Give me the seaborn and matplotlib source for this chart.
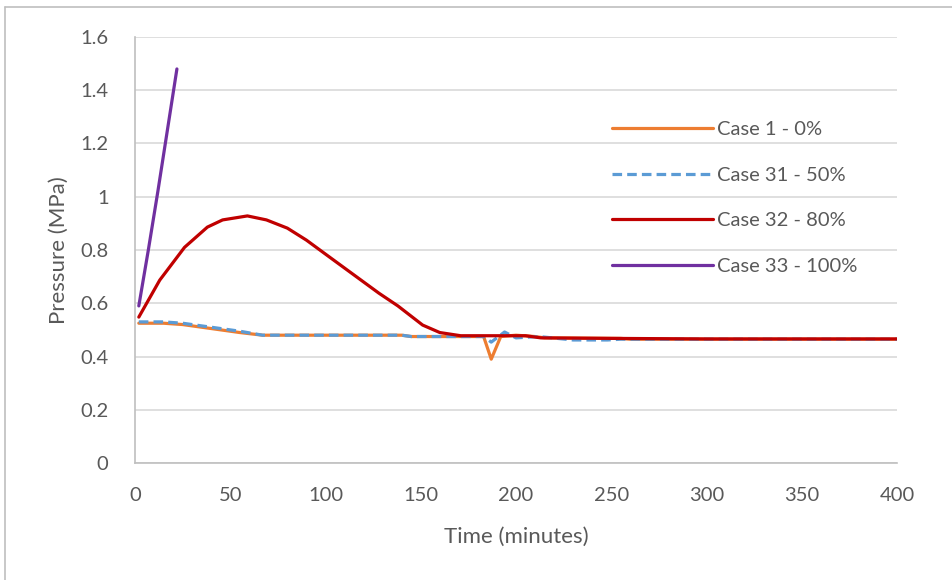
import pandas as pd
import numpy as np
import matplotlib
matplotlib.use("Agg")
import matplotlib.pyplot as plt
import seaborn as sns
from matplotlib.lines import Line2D

sns.set_style("white")
plt.rcParams["font.family"] = ["Lato", "DejaVu Sans"]

# 读图得到的数据（时间/分钟，压力/MPa）
case1_t = [2, 15, 25, 35, 45, 55, 67, 100, 140, 145, 183, 187, 192, 200, 210, 215, 255, 260, 400]
case1_p = [0.525, 0.525, 0.52, 0.51, 0.50, 0.49, 0.48, 0.48, 0.48, 0.475, 0.475, 0.39, 0.475, 0.48, 0.475, 0.47, 0.468, 0.465, 0.465]

case31_t = [2, 15, 25, 35, 45, 55, 67, 100, 140, 145, 183, 187, 194, 200, 212, 230, 248, 255, 400]
case31_p = [0.53, 0.53, 0.525, 0.515, 0.505, 0.495, 0.48, 0.48, 0.48, 0.475, 0.475, 0.454, 0.492, 0.47, 0.475, 0.462, 0.462, 0.465, 0.465]

case32_t = [2, 13, 26, 38, 46, 59, 69, 80, 90, 102, 115, 128, 138, 151, 160, 171, 190, 205, 213, 250, 300, 400]
case32_p = [0.548, 0.687, 0.81, 0.886, 0.913, 0.928, 0.913, 0.882, 0.837, 0.774, 0.706, 0.638, 0.59, 0.518, 0.49, 0.478, 0.478, 0.478, 0.47, 0.468, 0.466, 0.466]

case33_t = [2, 7, 12, 17, 22]
case33_p = [0.59, 0.80, 1.02, 1.25, 1.48]

labels = ["Case 1 - 0%", "Case 31 - 50%", "Case 32 - 80%", "Case 33 - 100%"]
colors = ["#ED7D31", "#5B9BD5", "#C00000", "#7030A0"]
styles = ["-", (0, (3, 1.6)), "-", "-"]
series = [(case1_t, case1_p), (case31_t, case31_p), (case32_t, case32_p), (case33_t, case33_p)]

fig = plt.figure(figsize=(9.53, 5.80), dpi=100)
ax = fig.add_axes([135/953, 1-463/580, (897-135)/953, (463-37)/580])

for (t, p), lab, c, ls in zip(series, labels, colors, styles):
    df = pd.DataFrame({"Time": t, "Pressure": p})
    sns.lineplot(data=df, x="Time", y="Pressure", ax=ax, color=c, linewidth=2.3,
                 linestyle=ls, sort=False, label=lab, legend=False)

ax.set_xlim(0, 400)
ax.set_ylim(0, 1.6)
ax.set_xticks(np.arange(0, 401, 50))
ax.set_yticks(np.arange(0, 1.61, 0.2))
ax.set_yticklabels(["0", "0.2", "0.4", "0.6", "0.8", "1", "1.2", "1.4", "1.6"])
ax.grid(axis="y", color="#d9d9d9", linewidth=1.2)
ax.set_axisbelow(True)
for s in ["top", "right"]:
    ax.spines[s].set_visible(False)
for s in ["left", "bottom"]:
    ax.spines[s].set_color("#bfbfbf")
    ax.spines[s].set_linewidth(1.2)
ax.tick_params(axis="both", length=0, labelsize=14.5, colors="#595959")
ax.tick_params(axis="x", pad=17)
ax.tick_params(axis="y", pad=19)
ax.set_xlabel("Time (minutes)", fontsize=16, color="#595959", labelpad=17)
ax.set_ylabel("Pressure (MPa)", fontsize=16, color="#595959", labelpad=8)

handles = [Line2D([0], [0], color=c, linewidth=2.3, linestyle=ls) for c, ls in zip(colors, styles)]
leg = fig.legend(handles, labels, loc="upper left", bbox_to_anchor=(612/953, 1-121/580),
                 frameon=False, fontsize=14.5, handlelength=5.0, handletextpad=0.22,
                 labelspacing=1.42, borderpad=0, borderaxespad=0)
for txt in leg.get_texts():
    txt.set_color("#595959")

# 图表外框（左、上）
fig.add_artist(Line2D([5/953, 5/953], [0, 1-7/580], color="#bfbfbf", linewidth=1.2))
fig.add_artist(Line2D([5/953, 1], [1-7/580, 1-7/580], color="#bfbfbf", linewidth=1.2))

fig.savefig("out.png", dpi=100)
